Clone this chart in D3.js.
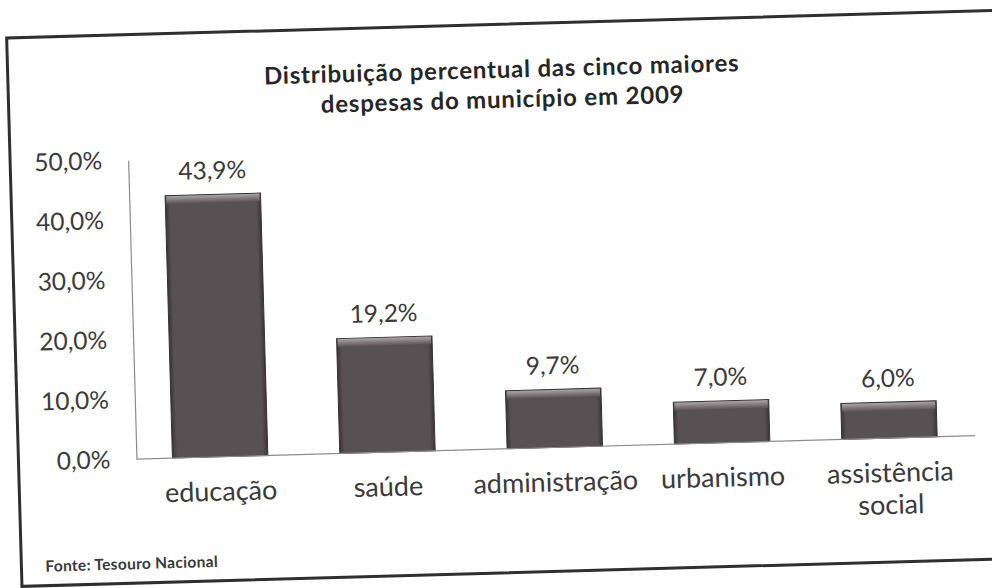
<!DOCTYPE html>
<html>
<head>
<meta charset="utf-8">
<script src="https://cdn.jsdelivr.net/npm/d3@7"></script>
<style>
  html, body { margin: 0; padding: 0; background: #ffffff; }
  svg { display: block; }
  text { font-family: Lato, "Open Sans", sans-serif; }
</style>
</head>
<body>
<svg id="chart" width="992" height="588"></svg>
<script>
// Distribuição percentual das cinco maiores despesas do município (2009)
const titleLines = ["Distribuição percentual das cinco maiores", "despesas do município em 2009"];
const categories = ["educação", "saúde", "administração", "urbanismo", "assistência social"];
const values = [43.9, 19.2, 9.7, 7.0, 6.0];
const yTicks = [0, 10, 20, 30, 40, 50];
const sourceNote = "Fonte: Tesouro Nacional";

const ptBR = d3.formatLocale({ decimal: ",", thousands: ".", grouping: [3], currency: ["R$", ""] });
const pct = v => ptBR.format(".1f")(v) + "%";

const svg = d3.select("#chart");
const W = 992, H = 588;
const FONT = "Lato, \"Open Sans\", sans-serif";

// Whole sheet sits slightly askew on the page
const page = svg.append("g").attr("transform", `rotate(-1.6, ${W / 2}, ${H / 2})`);

// Chart frame
page.append("rect")
  .attr("x", 14).attr("y", 24.5)
  .attr("width", 1010).attr("height", 548.5)
  .attr("fill", "#ffffff")
  .attr("stroke", "#2f2f2f")
  .attr("stroke-width", 3);

// Title
page.append("text")
  .attr("x", 508).attr("y", 78)
  .attr("text-anchor", "middle")
  .attr("font-weight", 700)
  .attr("font-size", 24)
  .attr("letter-spacing", 0.8)
  .attr("fill", "#262626")
  .selectAll("tspan")
  .data(titleLines)
  .join("tspan")
  .attr("x", 508)
  .attr("dy", (d, i) => i === 0 ? 0 : 30)
  .text(d => d);

// Scales
const y = d3.scaleLinear().domain([0, 50]).range([449, 150]);
const x = d3.scaleBand().domain(categories).range([132, 969]).paddingInner(0.43).paddingOuter(0.215);

// Gradients for the bevelled bars
const defs = svg.append("defs");
const topGrad = defs.append("linearGradient").attr("id", "bevelTop").attr("x1", 0).attr("y1", 0).attr("x2", 0).attr("y2", 1);
topGrad.append("stop").attr("offset", 0).attr("stop-color", "#aaa5a7");
topGrad.append("stop").attr("offset", 1).attr("stop-color", "#575153");
const sideGrad = defs.append("linearGradient").attr("id", "bevelSide").attr("x1", 0).attr("y1", 0).attr("x2", 1).attr("y2", 0);
sideGrad.append("stop").attr("offset", 0).attr("stop-color", "#3a3537");
sideGrad.append("stop").attr("offset", 0.05).attr("stop-color", "#575153");
sideGrad.append("stop").attr("offset", 0.95).attr("stop-color", "#575153");
sideGrad.append("stop").attr("offset", 1).attr("stop-color", "#3a3537");

// Y axis: line and labels only
const yAxis = page.append("g").attr("transform", `translate(${x.range()[0]},0)`)
  .call(d3.axisLeft(y).tickValues(yTicks).tickFormat(pct).tickSize(0).tickPadding(26));
yAxis.select(".domain").attr("stroke", "#8c8c8c").attr("stroke-width", 1.2);
yAxis.selectAll("text")
  .attr("font-family", FONT)
  .attr("font-size", 24.5)
  .attr("fill", "#3a3a3a");

// Bars
const data = categories.map((c, i) => ({ c, v: values[i] }));
const bars = page.append("g").selectAll("g.bar").data(data).join("g").attr("class", "bar");
bars.append("rect")
  .attr("x", d => x(d.c)).attr("y", d => y(d.v))
  .attr("width", x.bandwidth()).attr("height", d => y(0) - y(d.v))
  .attr("fill", "url(#bevelSide)")
  .attr("stroke", "#363133").attr("stroke-width", 1);
bars.append("rect")
  .attr("x", d => x(d.c) + 1).attr("y", d => y(d.v) + 0.5)
  .attr("width", x.bandwidth() - 2).attr("height", 8)
  .attr("fill", "url(#bevelTop)");

// Category axis
const xAxis = page.append("g").attr("transform", `translate(0,${y(0)})`)
  .call(d3.axisBottom(x).tickSize(0).tickFormat(() => ""));
xAxis.select(".domain").attr("stroke", "#8c8c8c").attr("stroke-width", 1.2)
  .attr("d", `M${x.range()[0]},0H${x.range()[1] + 2}`);

const catLabels = page.append("g").selectAll("text").data(categories).join("text")
  .attr("x", d => x(d) + x.bandwidth() / 2)
  .attr("y", y(0) + 44)
  .attr("text-anchor", "middle")
  .attr("font-size", 27)
  .attr("fill", "#3a3a3a");
catLabels.selectAll("tspan")
  .data(d => d.split(" "))
  .join("tspan")
  .attr("x", function () { return d3.select(this.parentNode).attr("x"); })
  .attr("dy", (d, i) => i === 0 ? 0 : 32)
  .text(d => d);

// Value labels
page.append("g").selectAll("text").data(data).join("text")
  .attr("x", d => x(d.c) + x.bandwidth() / 2)
  .attr("y", d => y(d.v) - 24)
  .attr("dy", "0.35em")
  .attr("text-anchor", "middle")
  .attr("font-size", 24.5)
  .attr("fill", "#3a3a3a")
  .text(d => pct(d.v));

// Source note
page.append("text")
  .attr("x", 38).attr("y", 559)
  .attr("font-size", 15.5)
  .attr("font-weight", 700)
  .attr("letter-spacing", 0.3)
  .attr("fill", "#3a3a3a")
  .text(sourceNote);
</script>
</body>
</html>
